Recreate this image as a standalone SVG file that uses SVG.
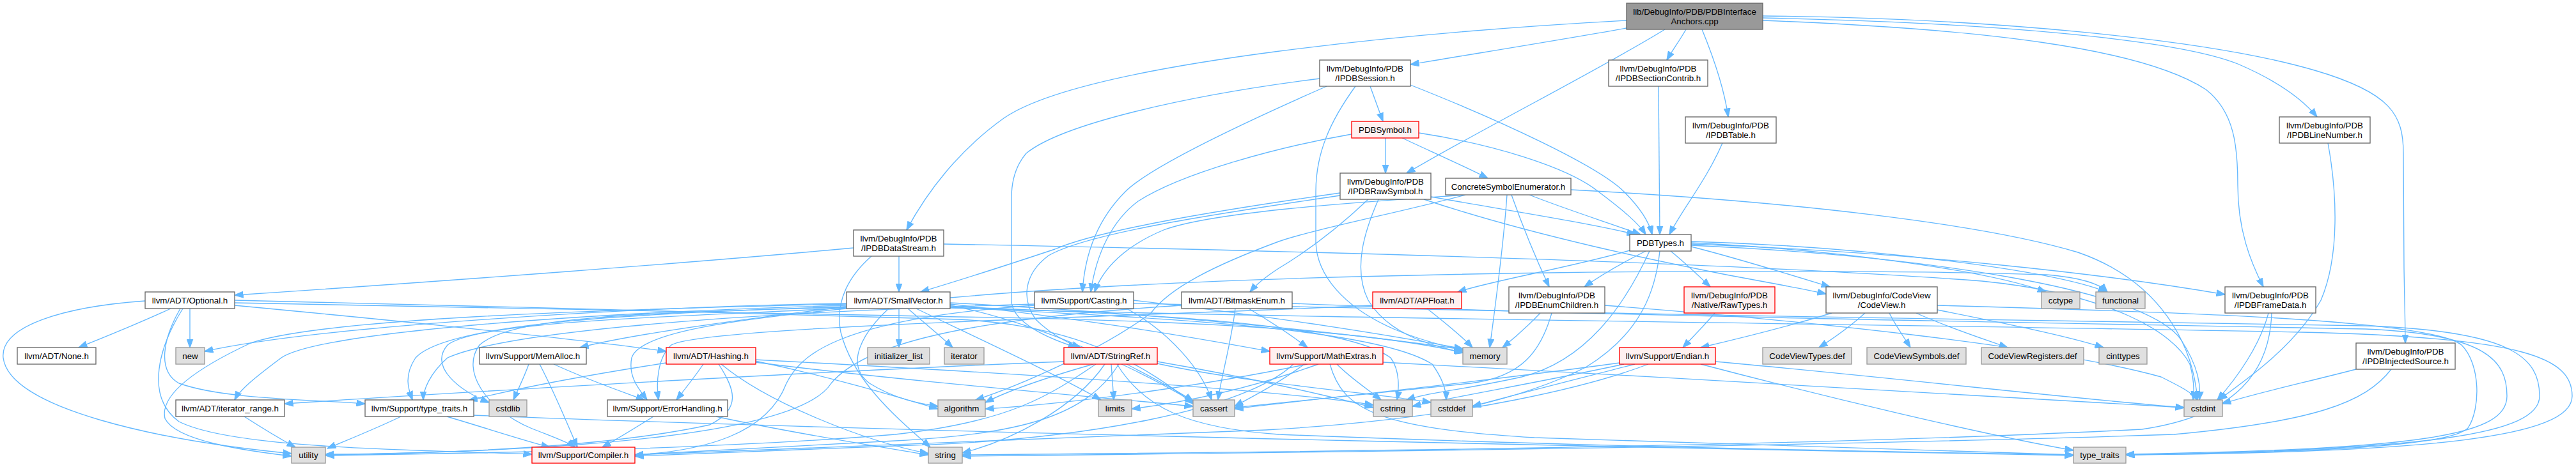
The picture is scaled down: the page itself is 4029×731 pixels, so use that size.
<svg xmlns="http://www.w3.org/2000/svg" width="4029" height="731" viewBox="0 0 4029 731">
<defs>
<style>
.e{fill:none;stroke:#63b8ff;stroke-width:1.33;marker-end:url(#a)}
.w{fill:#fff;stroke:#666;stroke-width:1.33}
.g{fill:#e0e0e0;stroke:#999;stroke-width:1.33}
.r{fill:#fff0f0;stroke:#f00;stroke-width:1.33}
.k{fill:#999;stroke:#666;stroke-width:1.33}
text{font-family:"Liberation Sans",Arial,Helvetica,sans-serif;font-size:13.33px;text-anchor:middle;fill:#000}
</style>
<marker id="a" markerUnits="userSpaceOnUse" markerWidth="14" markerHeight="11" viewBox="0 0 14 11" refX="13.5" refY="5.5" orient="auto"><path d="M0,0.5 L14,5.5 L0,10.5 z" fill="#63b8ff" stroke="#63b8ff" stroke-width="1"/></marker>
</defs>
<rect width="4029" height="731" fill="#fff"/>
<g id="edges">
<path class="e" d="M2544,32 C2250,48 1700,95 1570,185 C1500,235 1450,300 1418,360"/>
<path class="e" d="M2544,44 C2420,66 2300,85 2206,101"/>
<path class="e" d="M2604,46 C2500,110 2330,195 2200,271"/>
<path class="e" d="M2637,46 C2628,62 2615,80 2607,94"/>
<path class="e" d="M2662,46 C2680,90 2697,140 2703,183"/>
<path class="e" d="M2757,28 C3100,35 3400,60 3500,100 C3570,130 3605,160 3624,183"/>
<path class="e" d="M2757,32 C3100,45 3350,75 3450,140 C3495,175 3500,230 3500,290 C3500,360 3520,410 3540,449"/>
<path class="e" d="M2757,25 C3100,28 3450,60 3620,110 C3740,145 3759,180 3759,240 L3760,420 C3761,480 3762,510 3762,537"/>
<path class="e" d="M2064,123 C1850,150 1660,195 1605,240 C1588,260 1582,285 1582,310 L1582,470 C1582,505 1640,530 1684,544"/>
<path class="e" d="M2075,135 C1950,190 1800,260 1760,300 C1720,340 1697,390 1693,457"/>
<path class="e" d="M2143,135 L2163,190"/>
<path class="e" d="M2206,133 C2350,190 2500,260 2540,300 C2568,328 2580,350 2584,367"/>
<path class="e" d="M2120,135 C2080,190 2058,240 2058,300 L2058,380 C2060,430 2100,480 2180,515 C2220,532 2260,542 2290,548"/>
<path class="e" d="M2167,216 L2167,271"/>
<path class="e" d="M2193,216 C2240,238 2290,260 2327,279"/>
<path class="e" d="M2219,208 C2330,225 2450,260 2500,300 C2540,330 2563,350 2574,367"/>
<path class="e" d="M2114,210 C2000,230 1850,270 1780,315 C1740,345 1715,395 1706,457"/>
<path class="e" d="M2096,302 C1900,330 1720,360 1650,390 C1560,420 1480,445 1440,457"/>
<path class="e" d="M2140,312 C2100,350 2050,390 2000,420 C1980,433 1965,445 1955,457"/>
<path class="e" d="M2096,306 C1900,335 1700,365 1640,400 C1600,430 1598,470 1620,500 C1640,520 1665,535 1690,544"/>
<path class="e" d="M2156,312 C2135,360 2115,420 2140,470 C2170,520 2230,540 2290,552"/>
<path class="e" d="M2227,312 C2400,370 2600,410 2700,430 C2780,445 2820,452 2856,460"/>
<path class="e" d="M2238,308 C2350,328 2480,348 2558,367"/>
<path class="e" d="M2364,305 C2380,350 2400,400 2423,449"/>
<path class="e" d="M2392,305 C2450,328 2520,350 2566,367"/>
<path class="e" d="M2292,305 C2150,315 1900,330 1820,360 C1760,385 1725,420 1712,457"/>
<path class="e" d="M2292,305 C2200,330 2050,360 2000,378 C1900,415 1830,450 1800,490 C1720,550 1590,605 1526,626"/>
<path class="e" d="M2457,297 C2800,315 3100,350 3250,395 C3380,440 3430,540 3437,626"/>
<path class="e" d="M2357,305 C2352,380 2340,470 2330,544"/>
<path class="e" d="M1335,388 C1100,410 700,440 367,462"/>
<path class="e" d="M1406,401 L1406,457"/>
<path class="e" d="M1476,382 C2000,392 2700,410 3100,440 C3300,460 3400,520 3425,570 C3432,595 3432,612 3430,626"/>
<path class="e" d="M1363,401 C1330,430 1305,470 1315,520 C1335,600 1410,660 1455,700"/>
<path class="e" d="M267,483 C220,505 170,525 123,544"/>
<path class="e" d="M297,483 L297,544"/>
<path class="e" d="M227,471 C100,480 0,510 5,560 C15,640 250,690 456,710"/>
<path class="e" d="M286,483 C250,540 225,620 280,660 C360,700 600,703 832,711"/>
<path class="e" d="M282,483 C255,530 245,580 280,600 C350,625 480,625 571,632"/>
<path class="e" d="M367,478 C600,500 900,530 1042,550"/>
<path class="e" d="M367,470 C700,478 1200,490 1500,500 C1700,510 1800,580 1866,632"/>
<path class="e" d="M367,474 C700,480 1100,490 1500,496 C1900,502 2150,520 2288,552"/>
<path class="e" d="M1406,483 L1406,544"/>
<path class="e" d="M1420,483 C1445,505 1470,525 1490,544"/>
<path class="e" d="M1433,483 C1530,530 1650,585 1722,626"/>
<path class="e" d="M1390,483 C1350,520 1320,570 1360,600 C1400,625 1440,632 1467,636"/>
<path class="e" d="M1486,478 C1600,500 1750,560 1868,630"/>
<path class="e" d="M1486,476 C1700,500 1850,525 1986,550"/>
<path class="e" d="M1486,474 C1800,490 2100,520 2288,547"/>
<path class="e" d="M1486,480 C1800,492 2100,505 2175,560 C2190,580 2188,610 2185,626"/>
<path class="e" d="M1486,481 C1800,497 2150,512 2240,570 C2258,595 2262,612 2262,626"/>
<path class="e" d="M1486,466 C2000,420 2900,420 3200,430 C3260,435 3285,445 3296,457"/>
<path class="e" d="M1486,482 C2000,498 3000,508 3600,520 C3950,528 4023,560 4023,620 C4023,685 3800,708 3325,712"/>
<path class="e" d="M1324,475 C1000,480 500,510 320,550"/>
<path class="e" d="M1324,478 C900,490 500,520 440,560 C400,590 375,610 367,626"/>
<path class="e" d="M1324,480 C1000,490 700,505 650,560 C630,590 640,612 645,626"/>
<path class="e" d="M1324,476 C900,485 500,500 392,537 C300,580 250,620 258,655 C275,690 380,705 456,714"/>
<path class="e" d="M1324,482 C1100,495 750,500 700,540 C670,575 720,612 765,630"/>
<path class="e" d="M1324,481 C1000,490 800,495 750,540 C720,580 760,640 830,670 C870,686 890,693 900,700"/>
<path class="e" d="M1324,483 C1150,500 1000,520 988,560 C982,590 1000,610 1012,626"/>
<path class="e" d="M1324,480 C1200,495 1000,520 907,544"/>
<path class="e" d="M1618,478 C1300,500 1250,560 1230,600 C1200,680 1100,706 993,712"/>
<path class="e" d="M1618,476 C1200,488 800,515 700,560 C672,585 662,610 662,626"/>
<path class="e" d="M1762,483 C1830,520 1880,580 1895,626"/>
<path class="e" d="M1773,470 C1950,490 2150,520 2288,546"/>
<path class="e" d="M1773,475 C2300,490 3200,500 3700,510 C3930,518 3972,560 3972,620 C3972,680 3800,704 3325,712"/>
<path class="e" d="M1953,483 C1990,505 2020,525 2045,544"/>
<path class="e" d="M1932,483 C1925,540 1910,590 1905,626"/>
<path class="e" d="M1848,478 C1500,500 1350,540 1300,600 C1250,680 900,706 509,712"/>
<path class="e" d="M2021,475 C2500,495 3200,505 3700,515 C3890,523 3921,565 3921,620 C3921,680 3800,703 3325,711"/>
<path class="e" d="M1664,566 C1300,580 700,615 445,632"/>
<path class="e" d="M1710,570 C1640,590 1580,610 1541,630"/>
<path class="e" d="M1714,570 C1640,620 1580,660 1400,680 C1100,705 700,710 509,713"/>
<path class="e" d="M1728,570 C1680,640 1580,690 1505,709"/>
<path class="e" d="M1738,570 L1742,626"/>
<path class="e" d="M1747,570 C1790,640 1860,670 2000,680 C2500,700 3000,708 3243,712"/>
<path class="e" d="M1762,570 C1800,590 1840,610 1866,628"/>
<path class="e" d="M1810,566 C1950,590 2080,620 2148,638"/>
<path class="e" d="M1810,569 C1950,600 2150,615 2238,630"/>
<path class="e" d="M1750,570 C1700,650 1600,680 1400,690 C1200,700 1100,705 993,712"/>
<path class="e" d="M2023,570 C1950,640 1700,690 1400,698 C1200,705 1100,710 993,714"/>
<path class="e" d="M2045,570 C1900,600 1700,630 1541,640"/>
<path class="e" d="M2062,570 C1950,610 1850,630 1770,640"/>
<path class="e" d="M2040,570 C2000,600 1960,620 1931,636"/>
<path class="e" d="M2091,570 C2110,590 2140,610 2160,626"/>
<path class="e" d="M2163,567 C2600,590 3200,625 3416,638"/>
<path class="e" d="M2080,570 C2100,640 2150,670 2400,685 C2800,700 3100,708 3243,712"/>
<path class="e" d="M2232,483 C2260,505 2285,525 2303,544"/>
<path class="e" d="M2147,478 C1800,495 1100,510 1050,540 C1028,560 1026,600 1030,626"/>
<path class="e" d="M2549,392 C2450,420 2330,440 2280,457"/>
<path class="e" d="M2574,393 C2540,410 2505,430 2478,449"/>
<path class="e" d="M2613,393 C2640,415 2660,435 2675,449"/>
<path class="e" d="M2645,386 C2720,405 2800,430 2862,449"/>
<path class="e" d="M2645,380 C2850,390 3100,420 3200,457"/>
<path class="e" d="M2645,378 C2900,385 3200,420 3295,457"/>
<path class="e" d="M2645,382 C3000,395 3300,430 3480,461"/>
<path class="e" d="M2645,384 C3000,400 3350,450 3410,530 C3440,575 3442,605 3440,626"/>
<path class="e" d="M2580,393 C2540,480 2480,565 2380,590 C2290,610 2230,615 2200,626"/>
<path class="e" d="M2596,393 C2590,450 2570,520 2480,575 C2420,605 2350,625 2303,636"/>
<path class="e" d="M2409,490 C2390,510 2370,528 2350,544"/>
<path class="e" d="M2427,490 C2410,550 2380,590 2300,600 C2150,615 2000,630 1931,638"/>
<path class="e" d="M2510,478 C2800,500 3200,540 3380,590 C3410,605 3430,615 3436,626"/>
<path class="e" d="M2682,490 C2665,510 2650,525 2632,544"/>
<path class="e" d="M2865,490 C2800,510 2720,530 2660,544"/>
<path class="e" d="M2917,490 C2895,510 2870,528 2845,544"/>
<path class="e" d="M2955,490 C2965,510 2978,528 2988,544"/>
<path class="e" d="M2997,490 C3040,510 3095,528 3140,544"/>
<path class="e" d="M3030,485 C3130,505 3230,525 3290,544"/>
<path class="e" d="M3030,478 C3400,488 3800,500 3850,540 C3880,570 3880,640 3860,670 C3830,700 3600,708 3325,712"/>
<path class="e" d="M2578,570 C2500,600 2300,655 1980,673 C1500,690 1100,708 993,712"/>
<path class="e" d="M2533,568 C2300,600 2050,625 1931,640"/>
<path class="e" d="M2557,570 C2480,590 2380,615 2303,636"/>
<path class="e" d="M2540,570 C2400,600 2280,620 2209,636"/>
<path class="e" d="M2683,566 C2950,590 3250,625 3416,638"/>
<path class="e" d="M2660,570 C2850,620 3100,680 3243,705"/>
<path class="e" d="M627,652 C590,670 545,688 512,702"/>
<path class="e" d="M699,652 C760,670 820,690 860,700"/>
<path class="e" d="M741,650 C1500,680 2800,705 3243,713"/>
<path class="e" d="M382,652 C410,670 440,688 462,700"/>
<path class="e" d="M827,570 C820,590 810,610 803,626"/>
<path class="e" d="M844,570 C870,620 890,670 903,700"/>
<path class="e" d="M866,570 C920,595 970,612 1008,626"/>
<path class="e" d="M1042,568 C900,590 800,610 733,627"/>
<path class="e" d="M1100,570 C1088,588 1072,608 1058,626"/>
<path class="e" d="M1124,570 C1150,610 1160,640 1110,665 C950,700 700,710 509,711"/>
<path class="e" d="M1128,570 C1200,630 1350,690 1452,710"/>
<path class="e" d="M1181,565 C1300,590 1400,620 1467,640"/>
<path class="e" d="M1181,567 C1400,595 1700,620 1866,636"/>
<path class="e" d="M1181,563 C1600,585 2000,610 2148,634"/>
<path class="e" d="M1022,652 C990,672 960,690 942,700"/>
<path class="e" d="M1120,652 C1250,680 1380,700 1452,712"/>
<path class="e" d="M3548,490 C3535,540 3500,590 3468,626"/>
<path class="e" d="M3553,490 C3550,580 3500,650 3350,672 C2800,700 2000,708 1505,712"/>
<path class="e" d="M3685,578 C3600,600 3530,615 3476,632"/>
<path class="e" d="M3740,578 C3700,630 3620,660 3400,680 C2800,700 2000,709 1505,714"/>
<path class="e" d="M3641,224 C3655,300 3660,400 3630,470 C3590,540 3520,590 3470,626"/>
<path class="e" d="M2594,135 C2595,220 2596,300 2596,367"/>
<path class="e" d="M2694,224 C2670,280 2630,330 2611,367"/>
</g>
<g id="n0"><rect class="k" x="2544" y="5" width="213" height="41"/><text x="2650.5" y="23">lib/DebugInfo/PDB/PDBInterface</text><text x="2650.5" y="38">Anchors.cpp</text></g>
<g id="n1"><rect class="w" x="2064" y="94" width="142" height="41"/><text x="2135" y="112">llvm/DebugInfo/PDB</text><text x="2135" y="127">/IPDBSession.h</text></g>
<g id="n2"><rect class="w" x="2516" y="94" width="155" height="41"/><text x="2593.5" y="112">llvm/DebugInfo/PDB</text><text x="2593.5" y="127">/IPDBSectionContrib.h</text></g>
<g id="n3"><rect class="r" x="2114" y="190" width="105" height="26"/><text x="2166.5" y="207.5">PDBSymbol.h</text></g>
<g id="n4"><rect class="w" x="2636" y="183" width="142" height="41"/><text x="2707" y="201">llvm/DebugInfo/PDB</text><text x="2707" y="216">/IPDBTable.h</text></g>
<g id="n5"><rect class="w" x="3565" y="183" width="142" height="41"/><text x="3636" y="201">llvm/DebugInfo/PDB</text><text x="3636" y="216">/IPDBLineNumber.h</text></g>
<g id="n6"><rect class="w" x="2096" y="271" width="142" height="41"/><text x="2167" y="289">llvm/DebugInfo/PDB</text><text x="2167" y="304">/IPDBRawSymbol.h</text></g>
<g id="n7"><rect class="w" x="2261" y="279" width="196" height="26"/><text x="2359" y="296.5">ConcreteSymbolEnumerator.h</text></g>
<g id="n8"><rect class="w" x="1335" y="360" width="141" height="41"/><text x="1405.5" y="378">llvm/DebugInfo/PDB</text><text x="1405.5" y="393">/IPDBDataStream.h</text></g>
<g id="n9"><rect class="w" x="2549" y="367" width="96" height="26"/><text x="2597" y="384.5">PDBTypes.h</text></g>
<g id="n10"><rect class="w" x="227" y="457" width="140" height="26"/><text x="297" y="474.5">llvm/ADT/Optional.h</text></g>
<g id="n11"><rect class="w" x="1324" y="457" width="162" height="26"/><text x="1405" y="474.5">llvm/ADT/SmallVector.h</text></g>
<g id="n12"><rect class="w" x="1618" y="457" width="155" height="26"/><text x="1695.5" y="474.5">llvm/Support/Casting.h</text></g>
<g id="n13"><rect class="w" x="1848" y="457" width="173" height="26"/><text x="1934.5" y="474.5">llvm/ADT/BitmaskEnum.h</text></g>
<g id="n14"><rect class="r" x="2147" y="457" width="139" height="26"/><text x="2216.5" y="474.5">llvm/ADT/APFloat.h</text></g>
<g id="n15"><rect class="w" x="2360" y="449" width="150" height="41"/><text x="2435" y="467">llvm/DebugInfo/PDB</text><text x="2435" y="482">/IPDBEnumChildren.h</text></g>
<g id="n16"><rect class="r" x="2634" y="449" width="142" height="41"/><text x="2705" y="467">llvm/DebugInfo/PDB</text><text x="2705" y="482">/Native/RawTypes.h</text></g>
<g id="n17"><rect class="w" x="2856" y="449" width="174" height="41"/><text x="2943" y="467">llvm/DebugInfo/CodeView</text><text x="2943" y="482">/CodeView.h</text></g>
<g id="n18"><rect class="g" x="3193" y="457" width="60" height="26"/><text x="3223" y="474.5">cctype</text></g>
<g id="n19"><rect class="g" x="3278" y="457" width="77" height="26"/><text x="3316.5" y="474.5">functional</text></g>
<g id="n20"><rect class="w" x="3480" y="449" width="142" height="41"/><text x="3551" y="467">llvm/DebugInfo/PDB</text><text x="3551" y="482">/IPDBFrameData.h</text></g>
<g id="n21"><rect class="w" x="27" y="544" width="123" height="26"/><text x="88.5" y="561.5">llvm/ADT/None.h</text></g>
<g id="n22"><rect class="g" x="275" y="544" width="45" height="26"/><text x="297.5" y="561.5">new</text></g>
<g id="n23"><rect class="w" x="750" y="544" width="167" height="26"/><text x="833.5" y="561.5">llvm/Support/MemAlloc.h</text></g>
<g id="n24"><rect class="r" x="1042" y="544" width="140" height="26"/><text x="1112" y="561.5">llvm/ADT/Hashing.h</text></g>
<g id="n25"><rect class="g" x="1357" y="544" width="97" height="26"/><text x="1405.5" y="561.5">initializer_list</text></g>
<g id="n26"><rect class="g" x="1477" y="544" width="62" height="26"/><text x="1508" y="561.5">iterator</text></g>
<g id="n27"><rect class="r" x="1664" y="544" width="146" height="26"/><text x="1737" y="561.5">llvm/ADT/StringRef.h</text></g>
<g id="n28"><rect class="r" x="1986" y="544" width="177" height="26"/><text x="2074.5" y="561.5">llvm/Support/MathExtras.h</text></g>
<g id="n29"><rect class="g" x="2288" y="544" width="69" height="26"/><text x="2322.5" y="561.5">memory</text></g>
<g id="n30"><rect class="r" x="2533" y="544" width="150" height="26"/><text x="2608" y="561.5">llvm/Support/Endian.h</text></g>
<g id="n31"><rect class="g" x="2757" y="544" width="139" height="26"/><text x="2826.5" y="561.5">CodeViewTypes.def</text></g>
<g id="n32"><rect class="g" x="2920" y="544" width="155" height="26"/><text x="2997.5" y="561.5">CodeViewSymbols.def</text></g>
<g id="n33"><rect class="g" x="3099" y="544" width="160" height="26"/><text x="3179" y="561.5">CodeViewRegisters.def</text></g>
<g id="n34"><rect class="g" x="3283" y="544" width="75" height="26"/><text x="3320.5" y="561.5">cinttypes</text></g>
<g id="n35"><rect class="w" x="3685" y="537" width="155" height="41"/><text x="3762.5" y="555">llvm/DebugInfo/PDB</text><text x="3762.5" y="570">/IPDBInjectedSource.h</text></g>
<g id="n36"><rect class="w" x="275" y="626" width="170" height="26"/><text x="360" y="643.5">llvm/ADT/iterator_range.h</text></g>
<g id="n37"><rect class="w" x="571" y="626" width="170" height="26"/><text x="656" y="643.5">llvm/Support/type_traits.h</text></g>
<g id="n38"><rect class="g" x="765" y="626" width="59" height="26"/><text x="794.5" y="643.5">cstdlib</text></g>
<g id="n39"><rect class="w" x="950" y="626" width="188" height="26"/><text x="1044" y="643.5">llvm/Support/ErrorHandling.h</text></g>
<g id="n40"><rect class="g" x="1467" y="626" width="74" height="26"/><text x="1504" y="643.5">algorithm</text></g>
<g id="n41"><rect class="g" x="1718" y="626" width="52" height="26"/><text x="1744" y="643.5">limits</text></g>
<g id="n42"><rect class="g" x="1866" y="626" width="65" height="26"/><text x="1898.5" y="643.5">cassert</text></g>
<g id="n43"><rect class="g" x="2148" y="626" width="61" height="26"/><text x="2178.5" y="643.5">cstring</text></g>
<g id="n44"><rect class="g" x="2238" y="626" width="65" height="26"/><text x="2270.5" y="643.5">cstddef</text></g>
<g id="n45"><rect class="g" x="3416" y="626" width="60" height="26"/><text x="3446" y="643.5">cstdint</text></g>
<g id="n46"><rect class="g" x="456" y="700" width="53" height="25"/><text x="482.5" y="717">utility</text></g>
<g id="n47"><rect class="r" x="832" y="700" width="161" height="25"/><text x="912.5" y="717">llvm/Support/Compiler.h</text></g>
<g id="n48"><rect class="g" x="1452" y="700" width="53" height="25"/><text x="1478.5" y="717">string</text></g>
<g id="n49"><rect class="g" x="3243" y="700" width="82" height="25"/><text x="3284" y="717">type_traits</text></g>
</svg>
